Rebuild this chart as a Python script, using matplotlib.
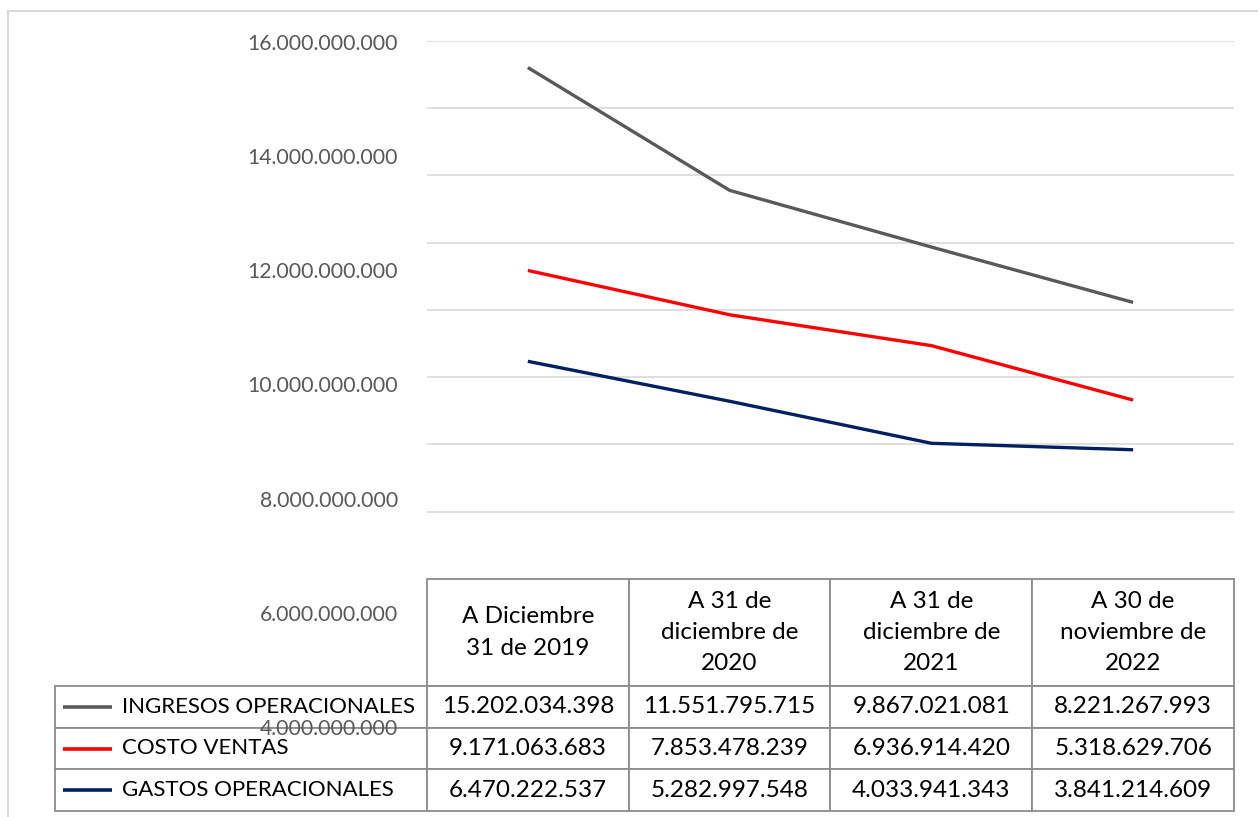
import matplotlib
matplotlib.use("Agg")
import matplotlib.pyplot as plt
from matplotlib.patches import Rectangle
from matplotlib.table import Table

periodos = ["A Diciembre\n31 de 2019", "A 31 de\ndiciembre de\n2020",
            "A 31 de\ndiciembre de\n2021", "A 30 de\nnoviembre de\n2022"]
series = ["INGRESOS OPERACIONALES", "COSTO VENTAS", "GASTOS OPERACIONALES"]
ingresos = [15202034398, 11551795715, 9867021081, 8221267993]
costo_ventas = [9171063683, 7853478239, 6936914420, 5318629706]
gastos = [6470222537, 5282997548, 4033941343, 3841214609]
colores = ["#595959", "#ff0000", "#002060"]
etiquetas_y = [16e9, 14e9, 12e9, 10e9, 8e9, 6e9, 4e9]

plt.rcParams["font.family"] = ["Lato", "DejaVu Sans"]

W, H = 1258, 817
fig = plt.figure(figsize=(W / 100, H / 100), dpi=100)

def fx(px):
    return px / W

def fy(py):
    return 1 - py / H

# outer chart frame
fig.patches.append(Rectangle((fx(8), fy(830)), fx(1270), fy(11) - fy(830),
                             transform=fig.transFigure, fill=False,
                             edgecolor="#d9d9d9", linewidth=1.5))

# plot area
left, right, top, bottom = 427, 1234, 40.7, 579
ax = fig.add_axes([fx(left), fy(bottom), fx(right - left), fy(top) - fy(bottom)])
x = range(len(periodos))
for vals, col in zip([ingresos, costo_ventas, gastos], colores):
    ax.plot(x, vals, color=col, linewidth=2.4, solid_capstyle="butt", zorder=3)
ax.set_xlim(-0.5, 3.5)
ax.set_ylim(0, 16e9)
ax.set_yticks([i * 2e9 for i in range(9)])
ax.grid(axis="y", color="#d9d9d9", linewidth=1.2)
ax.tick_params(left=False, bottom=False, labelleft=False, labelbottom=False)
for s in ax.spines.values():
    s.set_visible(False)

# data table under the plot
def fmt(v):
    return f"{v:,}".replace(",", ".")

cell_text = [[fmt(v) for v in row] for row in [ingresos, costo_ventas, gastos]]
tbl_left, tbl_bottom = 55, 811
plot_h = bottom - top
plot_w = right - left
label_w = (left - tbl_left) / plot_w
head_h = 107 / plot_h
row_h = (tbl_bottom - bottom - 107) / 3 / plot_h

tbl = Table(ax, bbox=[0, -(tbl_bottom - bottom) / plot_h, 1, (tbl_bottom - bottom) / plot_h])
tbl.auto_set_font_size(False)
for j, p in enumerate(periodos):
    tbl.add_cell(0, j, width=0.25, height=head_h, text=p, loc="center")
for i, nombre in enumerate(series):
    cell = tbl.add_cell(i + 1, -1, width=label_w, height=row_h, text=nombre, loc="left")
    cell.PAD = 67 / (left - tbl_left)
    for j, t in enumerate(cell_text[i]):
        tbl.add_cell(i + 1, j, width=0.25, height=row_h, text=t, loc="center")
for (r, c), cell in tbl.get_celld().items():
    cell.set_edgecolor("#8c8c8c")
    cell.set_linewidth(1.3)
    txt = cell.get_text()
    txt.set_fontsize(16 if c == -1 else 17.5)
    txt.set_linespacing(1.6)
tbl.set_zorder(4)
ax.add_table(tbl)

# legend keys inside the row labels
for i, col in enumerate(colores):
    yc = -(head_h + row_h * (i + 0.5))
    ax.plot([(63 - left) / plot_w, (112 - left) / plot_w], [yc, yc],
            transform=ax.transAxes, color=col, linewidth=2.6,
            clip_on=False, zorder=5, solid_capstyle="butt")

# value axis labels (drawn on their own scale, as in the source image)
lab = fig.add_axes([fx(left), fy(727), fx(right - left), fy(42) - fy(727)])
lab.set_ylim(4e9, 16e9)
lab.set_yticks(etiquetas_y)
lab.set_yticklabels([fmt(int(v)) for v in etiquetas_y], fontsize=15.3, color="#595959")
lab.tick_params(left=False, bottom=False, labelbottom=False, pad=17.3)
lab.patch.set_visible(False)
for s in lab.spines.values():
    s.set_visible(False)
lab.set_zorder(6)

fig.savefig("out.png", dpi=100)
